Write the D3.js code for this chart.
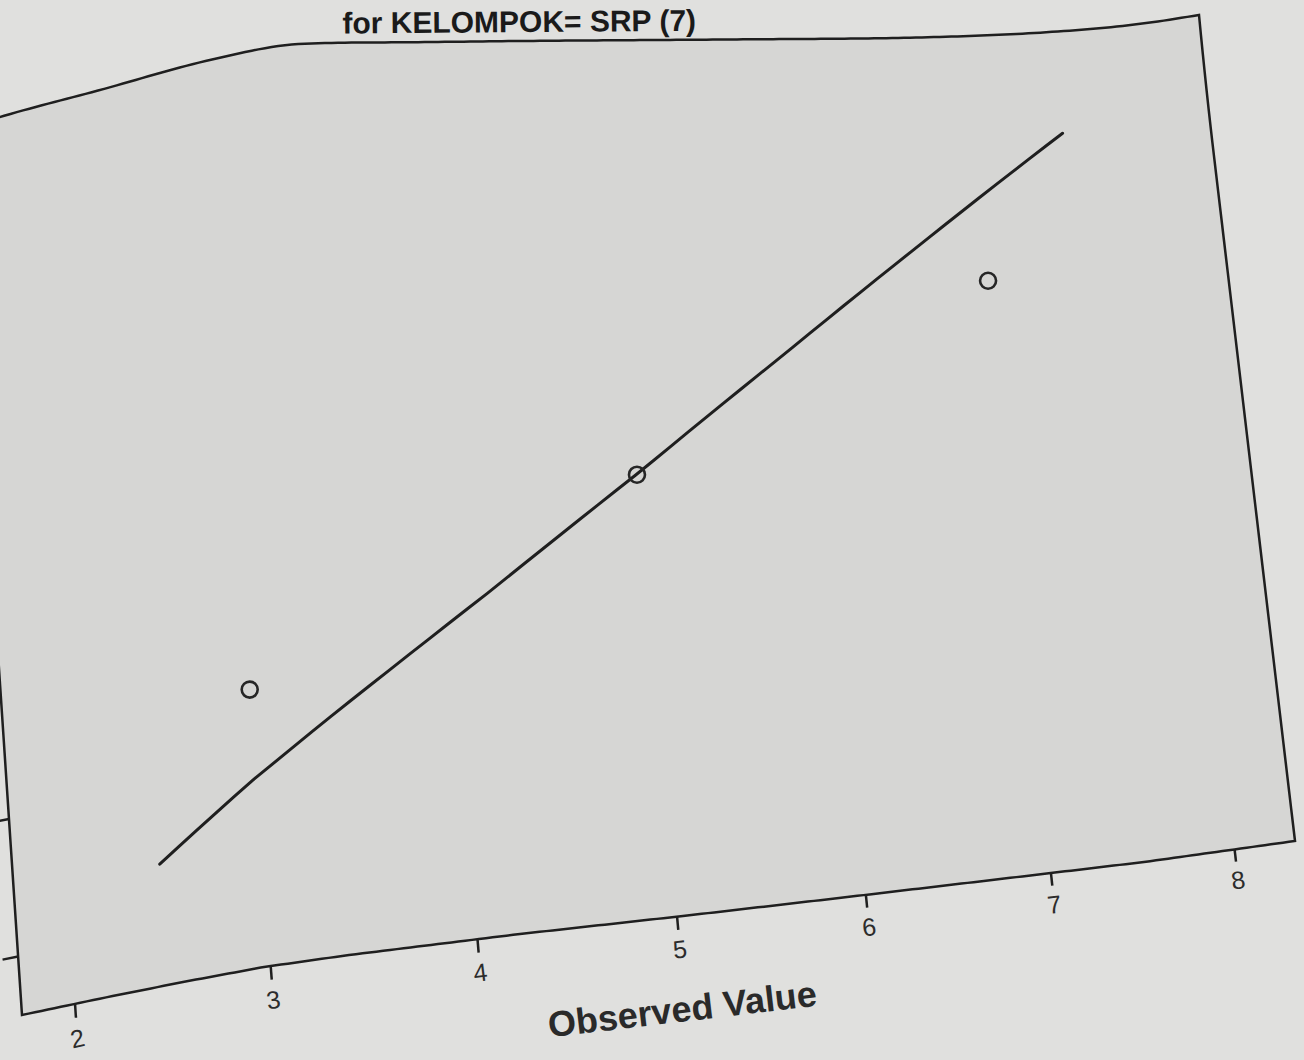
<!DOCTYPE html>
<html><head><meta charset="utf-8">
<script src="https://cdn.jsdelivr.net/npm/d3@7"></script>
<style>html,body{margin:0;padding:0;background:#e0e0de;overflow:hidden}svg{display:block}</style>
</head><body><svg id="chart" width="1304" height="1060"></svg>
<script>
// ---------------- data ----------------
const titleText = "for KELOMPOK= SRP (7)";
const xAxisTitle = "Observed Value";
const yAxisTitle = "Expected Normal";
const observedValues = [3, 5, 7];
const expectedNormal = [-0.674, 0, 0.674];
const refLineX = [2.48, 7.5];
const refLineY = [-1.265, 1.26];
const xTickValues = [2, 3, 4, 5, 6, 7, 8];
const yTickValues = [-1.5, -1, -0.5, 0, 0.5, 1, 1.5];
const xDomain = [1.73, 8.33];
const yDomain = [-1.713, 1.683];

// ---------------- photographed-sheet geometry (layout only) ----------------
const sheet = {
  tl: [-40, 130], tr: [1199, 15], br: [1295, 841], bl: [22, 1015],
  bottomU: [0, 0.0625, 0.125, 0.1875, 0.25, 0.375, 0.5, 0.625, 0.75, 0.875, 1],
  bottomX: [22, 103, 183, 264, 349, 520, 683, 839, 992, 1144, 1295],
  bottomY: [1015, 998, 982, 967, 955, 934, 916, 898, 880, 862, 841],
  // printed frame top edge as photographed (page curl)
  topX: [-40, 0, 100, 210, 300, 400, 520, 750, 900, 1000, 1050, 1100, 1150, 1199],
  topY: [130, 117, 90, 60, 44, 42.3, 41, 39.3, 37.9, 34.8, 32, 28.2, 22.6, 15],
  // flat (uncurled) top used for the plot interior
  flatX: [208, 601, 1047],
  flatY: [62, 40.3, 29.5],
  curlDepth: 0.15
};

function monotone(xs, ys) {
  const n = xs.length, d = [], m = new Array(n);
  for (let i = 0; i < n - 1; i++) d.push((ys[i + 1] - ys[i]) / (xs[i + 1] - xs[i]));
  m[0] = d[0]; m[n - 1] = d[n - 2];
  for (let i = 1; i < n - 1; i++) m[i] = d[i - 1] * d[i] <= 0 ? 0 : (d[i - 1] + d[i]) / 2;
  for (let i = 0; i < n - 1; i++) {
    if (d[i] === 0) { m[i] = m[i + 1] = 0; continue; }
    const a = m[i] / d[i], b = m[i + 1] / d[i], s = a * a + b * b;
    if (s > 9) { const t = 3 / Math.sqrt(s); m[i] = t * a * d[i]; m[i + 1] = t * b * d[i]; }
  }
  return x => {
    if (x <= xs[0]) return ys[0] + m[0] * (x - xs[0]);
    if (x >= xs[n - 1]) return ys[n - 1] + m[n - 1] * (x - xs[n - 1]);
    const i = Math.min(n - 2, d3.bisectRight(xs, x) - 1);
    const h = xs[i + 1] - xs[i], t = (x - xs[i]) / h, t2 = t * t, t3 = t2 * t;
    return (2 * t3 - 3 * t2 + 1) * ys[i] + (t3 - 2 * t2 + t) * h * m[i]
         + (-2 * t3 + 3 * t2) * ys[i + 1] + (t3 - t2) * h * m[i + 1];
  };
}
function quadratic(xs, ys) {
  return x => ys.reduce((s, yj, j) => {
    let l = 1;
    xs.forEach((xk, k) => { if (k !== j) l *= (x - xk) / (xs[j] - xk); });
    return s + yj * l;
  }, 0);
}

const bx = d3.scaleLinear().domain(sheet.bottomU).range(sheet.bottomX);
const by = d3.scaleLinear().domain(sheet.bottomU).range(sheet.bottomY);
const topPrinted = monotone(sheet.topX, sheet.topY);
const topFlat = quadratic(sheet.flatX, sheet.flatY);

function warp(u, w) {
  const Bx = bx(u), By = by(u);
  const f = (Bx - sheet.bl[0]) / (sheet.br[0] - sheet.bl[0]);
  const Tx = sheet.tl[0] + f * (sheet.tr[0] - sheet.tl[0]);
  const Ty = topFlat(Tx);
  const curl = topPrinted(Tx) - Ty;
  const g = w <= 0 ? 1 : Math.max(0, 1 - w / sheet.curlDepth) ** 2;
  return [Tx + w * (Bx - Tx), Ty + w * (By - Ty) + curl * g];
}
function angleAt(u, w) {
  const a = warp(u - 0.005, w), b = warp(u + 0.005, w);
  return Math.atan2(b[1] - a[1], b[0] - a[0]) * 180 / Math.PI;
}

// ---------------- scales ----------------
const xs = d3.scaleLinear().domain(xDomain).range([0, 1]);
const ys = d3.scaleLinear().domain(yDomain).range([1, 0]);
const P = (x, y) => warp(xs(x), ys(y));

const svg = d3.select("#chart");
const line = d3.line();
const ink = "#1f1f1f";
const font = "Liberation Sans, Arial, sans-serif";

// frame
const frame = [];
d3.range(0, 1.0001, 0.005).forEach(u => frame.push(warp(u, 0)));
d3.range(0, 1.0001, 0.02).forEach(w => frame.push(warp(1, w)));
d3.range(1, -0.0001, -0.005).forEach(u => frame.push(warp(u, 1)));
d3.range(1, -0.0001, -0.02).forEach(w => frame.push(warp(0, w)));
svg.append("path").attr("d", line(frame) + "Z")
  .attr("fill", "#d6d6d4").attr("stroke", ink).attr("stroke-width", 2.5)
  .attr("stroke-linejoin", "miter");

// x axis ticks & labels
const xAxis = svg.append("g").attr("class", "x-axis");
xTickValues.forEach(v => {
  const u = xs(v);
  xAxis.append("path").attr("d", line([warp(u, 1), warp(u, 1.015)]))
    .attr("stroke", ink).attr("stroke-width", 2.5).attr("fill", "none");
  const p = warp(u, 1.037);
  xAxis.append("text").text(v)
    .attr("transform", `translate(${p[0]},${p[1]}) rotate(${angleAt(u, 1.037)})`)
    .attr("text-anchor", "middle").attr("dominant-baseline", "central")
    .attr("font-family", font).attr("font-size", 25).attr("fill", "#2c2c2c");
});
{
  const u = 0.493, w = 1.105;
  const p = warp(u, w);
  xAxis.append("text").text(xAxisTitle)
    .attr("transform", `translate(${p[0]},${p[1]}) rotate(${angleAt(u, w)})`)
    .attr("text-anchor", "middle").attr("dominant-baseline", "central")
    .attr("font-family", font).attr("font-size", 36)
    .attr("font-weight", "bold").attr("fill", "#2a2a2a");
}

// y axis ticks, labels and title (at the photographed left border)
const yAxis = svg.append("g").attr("class", "y-axis");
yTickValues.forEach(v => {
  const w = ys(v);
  yAxis.append("path").attr("d", line([warp(0, w), warp(-0.012, w)]))
    .attr("stroke", ink).attr("stroke-width", 2.4).attr("fill", "none");
  const p = warp(-0.018, w);
  yAxis.append("text").text(d3.format(".1f")(v))
    .attr("transform", `translate(${p[0]},${p[1]}) rotate(${angleAt(0, w)})`)
    .attr("text-anchor", "end").attr("dominant-baseline", "central")
    .attr("font-family", font).attr("font-size", 25).attr("fill", "#2c2c2c");
});
{
  const p = warp(-0.09, 0.5);
  yAxis.append("text").text(yAxisTitle)
    .attr("transform", `translate(${p[0]},${p[1]}) rotate(${angleAt(0, 0.5) - 90})`)
    .attr("text-anchor", "middle").attr("dominant-baseline", "central")
    .attr("font-family", font).attr("font-size", 36)
    .attr("font-weight", "bold").attr("fill", "#2a2a2a");
}

// title
{
  const u = 0.435, w = -0.022;
  const p = warp(u, w);
  svg.append("text").text(titleText)
    .attr("transform", `translate(${p[0]},${p[1]}) rotate(${angleAt(u, w)})`)
    .attr("text-anchor", "middle").attr("dominant-baseline", "central")
    .attr("font-family", font).attr("font-size", 30)
    .attr("font-weight", "bold").attr("fill", "#1a1a1a");
}

// reference line (straight in data space, sampled through the sheet warp)
const lx = d3.scaleLinear().domain([0, 1]).range(refLineX);
const ly = d3.scaleLinear().domain([0, 1]).range(refLineY);
const refPts = d3.range(0, 1.0001, 0.02).map(t => P(lx(t), ly(t)));
svg.append("path").attr("d", line(refPts))
  .attr("fill", "none").attr("stroke", ink).attr("stroke-width", 3)
  .attr("stroke-linecap", "round");

// points
svg.append("g").selectAll("circle").data(observedValues).join("circle")
  .attr("cx", (d, i) => P(d, expectedNormal[i])[0])
  .attr("cy", (d, i) => P(d, expectedNormal[i])[1])
  .attr("r", 8).attr("fill", "none").attr("stroke", "#262626").attr("stroke-width", 2.6);
</script></body></html>
